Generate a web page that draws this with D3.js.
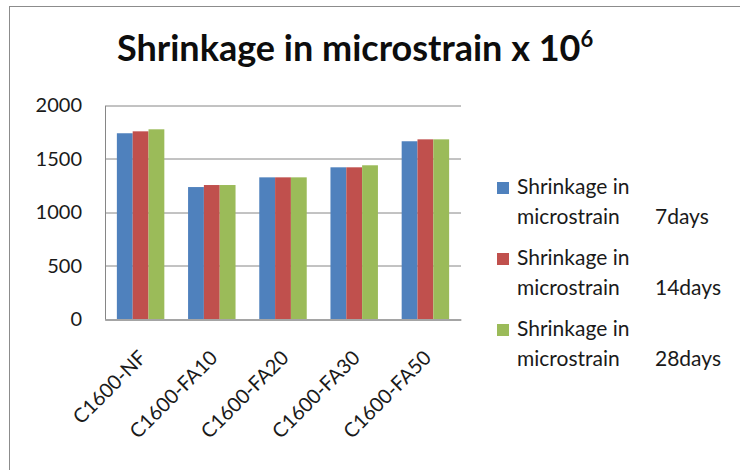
<!DOCTYPE html>
<html>
<head>
<meta charset="utf-8">
<script src="https://cdn.jsdelivr.net/npm/d3@7"></script>
<style>
  body { margin: 0; background: #fff; }
  svg { font-family: Lato, "Open Sans", sans-serif; }
</style>
</head>
<body>
<svg width="740" height="470"></svg>
<script>
let categories = ["C1600-NF", "C1600-FA10", "C1600-FA20", "C1600-FA30", "C1600-FA50"];
let seriesNames = ["Shrinkage in microstrain 7days", "Shrinkage in microstrain 14days", "Shrinkage in microstrain 28days"];
let days7 = [1740, 1236, 1327, 1421, 1665];
let days14 = [1758, 1255, 1327, 1421, 1683];
let days28 = [1777, 1255, 1327, 1440, 1683];
let yTicks = [0, 500, 1000, 1500, 2000];
let colors = ["#4F81BD", "#C0504D", "#9BBB59"];

let seriesValues = [days7, days14, days28];

let svg = d3.select("svg");

// outer chart border (right / bottom edges fall outside the picture)
svg.append("rect")
  .attr("x", 9.5).attr("y", 6.5)
  .attr("width", 760).attr("height", 500)
  .attr("fill", "none")
  .attr("stroke", "#8c8c8c");

let margin = { top: 105.5, left: 105, right: 279, bottom: 151 };
let plotWidth = 740 - margin.left - margin.right;
let plotHeight = 470 - margin.top - margin.bottom;

let y = d3.scaleLinear().domain([0, 2000]).range([plotHeight, 0]);
let x0 = d3.scaleBand().domain(categories).range([0, plotWidth]).padding(0);
let x1 = d3.scaleBand().domain(d3.range(seriesNames.length))
  .range([0, x0.bandwidth()])
  .paddingInner(0).paddingOuter(0.75);

let plot = svg.append("g")
  .attr("transform", "translate(" + margin.left + "," + margin.top + ")");

// gridlines
plot.append("g").selectAll("line")
  .data(yTicks)
  .enter().append("line")
  .attr("x1", 0).attr("x2", plotWidth)
  .attr("y1", d => Math.round(y(d)) + 0.5)
  .attr("y2", d => Math.round(y(d)) + 0.5)
  .attr("stroke", "#868686")
  .attr("stroke-width", 1);

// y axis
let yAxis = d3.axisLeft(y).tickValues(yTicks).tickFormat(d3.format("d")).tickSize(0).tickPadding(23);
let yGroup = plot.append("g").call(yAxis);
yGroup.select(".domain").attr("stroke", "#868686");
yGroup.selectAll("text")
  .style("font-size", "20px")
  .style("font-family", "Lato")
  .attr("fill", "#1a1a1a");

// bars
let groups = plot.selectAll("g.cat")
  .data(categories)
  .enter().append("g")
  .attr("class", "cat")
  .attr("transform", d => "translate(" + x0(d) + ",0)");

groups.selectAll("rect")
  .data((d, i) => seriesValues.map((s, j) => ({ s: j, v: s[i] })))
  .enter().append("rect")
  .attr("x", d => x1(d.s))
  .attr("width", x1.bandwidth())
  .attr("y", d => y(d.v))
  .attr("height", d => plotHeight - y(d.v))
  .attr("fill", d => colors[d.s]);

// x axis line
let xAxis = d3.axisBottom(x0).tickSize(0).tickFormat("");
let xGroup = plot.append("g")
  .attr("transform", "translate(0," + (plotHeight + 0.5) + ")")
  .call(xAxis);
xGroup.select(".domain").attr("stroke", "#868686");

// rotated category labels
plot.append("g").selectAll("text")
  .data(categories)
  .enter().append("text")
  .attr("transform", d => "translate(" + (x0(d) + x0.bandwidth() / 2 + 7) + "," + (plotHeight + 40) + ") rotate(-45)")
  .attr("text-anchor", "end")
  .style("font-size", "20px")
  .attr("fill", "#1a1a1a")
  .text(d => d);

// title
let title = svg.append("text")
  .attr("x", 117).attr("y", 61)
  .style("font-size", "36px")
  .style("font-weight", "bold")
  .attr("fill", "#0d0d0d");
title.append("tspan").text("Shrinkage in microstrain x 10");
title.append("tspan")
  .attr("dy", -14)
  .style("font-size", "22px")
  .text("6");

// legend
let legend = svg.append("g").selectAll("g")
  .data(seriesNames)
  .enter().append("g")
  .attr("transform", (d, i) => "translate(497," + (194 + i * 71) + ")");

legend.append("rect")
  .attr("x", 0).attr("y", -12)
  .attr("width", 12).attr("height", 12)
  .attr("fill", (d, i) => colors[i]);

legend.append("text")
  .attr("x", 20).attr("y", 0)
  .style("font-size", "21px")
  .attr("fill", "#1a1a1a")
  .text(d => d.split(" ").slice(0, 2).join(" "));

legend.append("text")
  .attr("x", 20).attr("y", 30)
  .style("font-size", "21px")
  .attr("fill", "#1a1a1a")
  .text(d => d.split(" ")[2]);

legend.append("text")
  .attr("x", 158).attr("y", 30)
  .style("font-size", "21px")
  .attr("fill", "#1a1a1a")
  .text(d => d.split(" ")[3]);
</script>
</body>
</html>
